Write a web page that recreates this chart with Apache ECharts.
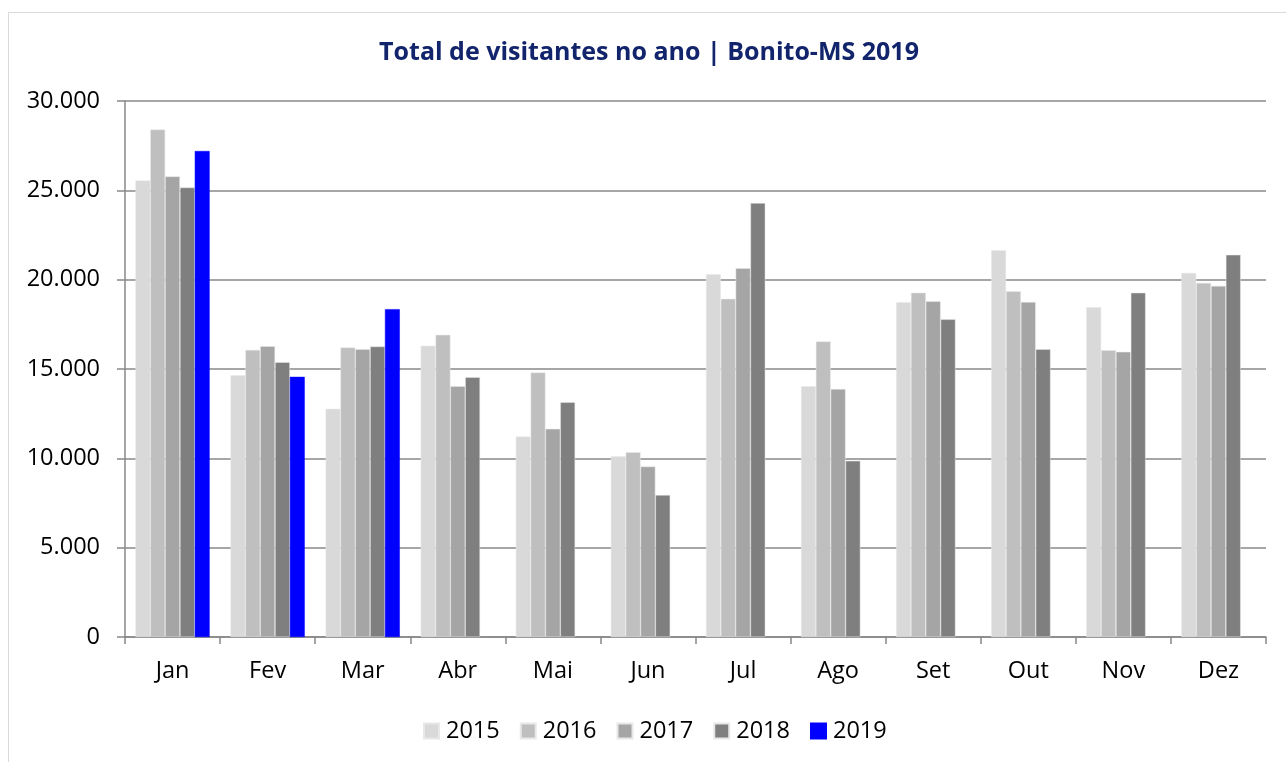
<!DOCTYPE html>
<html>
<head>
<meta charset="utf-8">
<script src="https://cdn.jsdelivr.net/npm/echarts@6/dist/echarts.min.js"></script>
<style>
  html, body { margin: 0; padding: 0; background: #fff; }
  #frame { position: absolute; left: 8px; top: 12px; width: 1290px; height: 770px; border: 1px solid #d9d9d9; box-sizing: border-box; }
  #chart { position: absolute; left: 0; top: 0; width: 1286px; height: 762px; }
</style>
</head>
<body>
<div id="frame"></div>
<div id="chart"></div>
<script>
const months = ['Jan', 'Fev', 'Mar', 'Abr', 'Mai', 'Jun', 'Jul', 'Ago', 'Set', 'Out', 'Nov', 'Dez'];
const years = ['2015', '2016', '2017', '2018', '2019'];
const v2015 = [25550, 14650, 12770, 16300, 11220, 10120, 20310, 14030, 18730, 21650, 18450, 20380];
const v2016 = [28400, 16070, 16200, 16910, 14800, 10340, 18930, 16540, 19270, 19350, 16050, 19820];
const v2017 = [25780, 16280, 16110, 14040, 11650, 9540, 20640, 13880, 18790, 18750, 15960, 19650];
const v2018 = [25160, 15380, 16260, 14540, 13140, 7950, 24290, 9860, 17780, 16110, 19270, 21390];
const v2019 = [27200, 14560, 18350, null, null, null, null, null, null, null, null, null];
const yTicks = [0, 5000, 10000, 15000, 20000, 25000, 30000];

const seriesValues = [v2015, v2016, v2017, v2018, v2019];
const colors = ['#d9d9d9', '#bfbfbf', '#a5a5a5', '#7f7f7f', '#0000ff'];
const font = '"Open Sans", "Noto Sans", sans-serif';

const chart = echarts.init(document.getElementById('chart'));
chart.setOption({
  animation: false,
  textStyle: { fontFamily: font },
  title: {
    text: 'Total de visitantes no ano | Bonito-MS 2019',
    left: 644,
    textAlign: 'center',
    top: 35,
    textStyle: { fontFamily: font, fontSize: 25, fontWeight: 'bold', color: '#12246b' }
  },
  legend: {
    data: years,
    left: 418,
    top: 714,
    itemWidth: 15,
    itemHeight: 15,
    itemGap: 20,
    icon: 'rect',
    textStyle: { fontFamily: font, fontSize: 23.5, color: '#000', padding: [0, 0, 0, 2] }
  },
  grid: { left: 125, right: 20, top: 101, bottom: 125, containLabel: false },
  xAxis: {
    type: 'category',
    data: months,
    axisLine: { lineStyle: { color: '#888', width: 1.5 } },
    axisTick: { show: true, length: 7, lineStyle: { color: '#888', width: 1.5 } },
    axisLabel: { fontFamily: font, fontSize: 23.5, color: '#000', margin: 22 }
  },
  yAxis: {
    type: 'value',
    min: 0,
    max: 30000,
    interval: 5000,
    axisLine: { show: true, lineStyle: { color: '#888', width: 1.5 } },
    axisTick: { show: true, length: 8, lineStyle: { color: '#888', width: 1.5 } },
    splitLine: { lineStyle: { color: '#888', width: 1.5 } },
    axisLabel: {
      fontFamily: font, fontSize: 23.5, color: '#000', margin: 25,
      formatter: v => yTicks.includes(v) ? (v === 0 ? '0' : v.toLocaleString('de-DE')) : ''
    }
  },
  series: years.map((y, i) => ({
    name: y,
    type: 'bar',
    data: seriesValues[i],
    barGap: '0%',
    barCategoryGap: '22%',
    itemStyle: { color: colors[i], borderColor: i === 4 ? '#0000ff' : '#e8e8e8', borderWidth: 0.5 }
  }))
});
</script>
</body>
</html>
